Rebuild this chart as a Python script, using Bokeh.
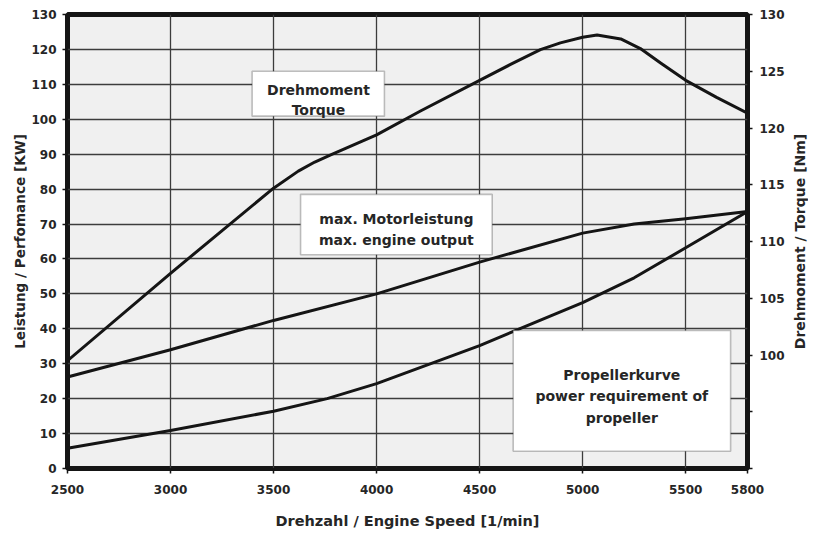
import math
from bokeh.plotting import figure
from bokeh.models import Range1d, LinearAxis, FixedTicker, BoxAnnotation, Label
from bokeh.embed import file_html
from bokeh.resources import INLINE

# ---- data ----
rpm_torque = [2500, 3000, 3500, 3620, 3700, 3780, 4000, 4213, 4500, 4650, 4795,
              4892, 5000, 5070, 5185, 5280, 5380, 5500, 5650, 5800]
torque_nm = [99.5, 107.2, 114.7, 116.2, 117.0, 117.65, 119.4, 121.5, 124.2, 125.6, 126.9,
             127.5, 128.0, 128.2, 127.85, 127.0, 125.7, 124.2, 122.7, 121.3]

rpm_power = [2500, 3000, 3500, 4000, 4500, 5000, 5250, 5500, 5800]
power_kw = [26.2, 34.0, 42.4, 50.0, 59.1, 67.4, 70.0, 71.5, 73.6]

rpm_prop = [2500, 3000, 3500, 3760, 4000, 4500, 5000, 5250, 5500, 5800]
prop_kw = [5.8, 10.9, 16.4, 20.0, 24.3, 35.2, 47.5, 54.6, 63.2, 73.6]

x_ticks = [2500, 3000, 3500, 4000, 4500, 5000, 5500, 5800]
x_grid = [3000, 3500, 4000, 4500, 5000, 5500]
kw_ticks = [0, 10, 20, 30, 40, 50, 60, 70, 80, 90, 100, 110, 120, 130]
nm_label_ticks = [100, 105, 110, 115, 120, 125, 130]
nm_unlabeled_ticks = [90, 95]

title_left = "Leistung / Perfomance [KW]"
title_right = "Drehmoment / Torque [Nm]"
title_bottom = "Drehzahl / Engine Speed [1/min]"

FONT = "DejaVu Sans"
TXT = "#262626"
INK = "#151515"

p = figure(width=808, height=532, output_backend="svg", toolbar_location=None,
           x_range=Range1d(2500, 5800), y_range=Range1d(0, 130),
           min_border_left=67, min_border_right=61, min_border_top=14,
           min_border_bottom=64)
p.extra_y_ranges = {"nm": Range1d(90, 130)}

p.background_fill_color = "#f0f0f0"
p.border_fill_color = "white"
p.outline_line_color = INK
p.outline_line_width = 5

# grid
p.xgrid.ticker = FixedTicker(ticks=x_grid)
p.ygrid.ticker = FixedTicker(ticks=kw_ticks[1:-1])
for g in (p.xgrid, p.ygrid):
    g.grid_line_color = "#3c3c3c"
    g.grid_line_width = 1.3

# axes
def style_axis(ax):
    ax.axis_line_color = None
    ax.major_tick_line_color = INK
    ax.major_tick_line_width = 1.5
    ax.major_tick_in = 0
    ax.major_tick_out = 5
    ax.minor_tick_line_color = None
    ax.major_label_text_font = FONT
    ax.major_label_text_font_style = "bold"
    ax.major_label_text_font_size = "12px"
    ax.major_label_text_color = TXT
    ax.axis_label_text_font = FONT
    ax.axis_label_text_font_style = "bold"
    ax.axis_label_text_font_size = "14.5px"
    ax.axis_label_text_color = TXT

xa = p.xaxis[0]
style_axis(xa)
xa.ticker = FixedTicker(ticks=x_ticks)
xa.major_label_standoff = 11
xa.axis_label = title_bottom
xa.axis_label_standoff = 16

ya = p.yaxis[0]
style_axis(ya)
ya.ticker = FixedTicker(ticks=kw_ticks)
ya.major_label_standoff = 6
ya.axis_label = title_left
ya.axis_label_text_font_size = "13.6px"
ya.axis_label_standoff = 0

ra = LinearAxis(y_range_name="nm",
                ticker=FixedTicker(ticks=nm_label_ticks, minor_ticks=nm_unlabeled_ticks))
style_axis(ra)
ra.minor_tick_line_color = INK
ra.minor_tick_line_width = 1.5
ra.minor_tick_in = 0
ra.minor_tick_out = 5
ra.major_label_standoff = 7
p.add_layout(ra, "right")

# right axis title, reading bottom-to-top; placed in the right side panel so it is not clipped
p.add_layout(Label(x=5800, y=65, x_offset=52, text=title_right, angle=math.pi / 2,
                   angle_units="rad", text_align="center", text_baseline="middle",
                   text_font=FONT, text_font_style="bold", text_font_size="14px",
                   text_color=TXT), "right")

# curves
p.line(rpm_torque, torque_nm, y_range_name="nm", line_color=INK, line_width=3,
       line_join="round")
p.line(rpm_power, power_kw, line_color=INK, line_width=3, line_join="round")
p.line(rpm_prop, prop_kw, line_color=INK, line_width=3, line_join="round")

# annotation boxes (data units)
boxes = [
    (3396, 4038, 100.9, 113.75),
    (3631, 4561, 61.2, 78.5),
    (4663, 5718, 4.96, 39.5),
]
for l, r, b, t in boxes:
    p.add_layout(BoxAnnotation(left=l, right=r, bottom=b, top=t,
                               fill_color="white", fill_alpha=1.0,
                               line_color="#303030", line_width=1.6))

labels = [
    (3718, 108.5, "Drehmoment"),
    (3718, 102.7, "Torque"),
    (4096, 71.5, "max. Motorleistung"),
    (4096, 65.5, "max. engine output"),
    (5190, 26.8, "Propellerkurve"),
    (5190, 20.7, "power requirement of"),
    (5190, 14.6, "propeller"),
]
for x, y, t in labels:
    p.add_layout(Label(x=x, y=y, text=t, text_align="center",
                       text_baseline="alphabetic", text_font=FONT,
                       text_font_style="bold", text_font_size="14px",
                       text_color=TXT))

open("out.html", "w").write(file_html(p, INLINE))
